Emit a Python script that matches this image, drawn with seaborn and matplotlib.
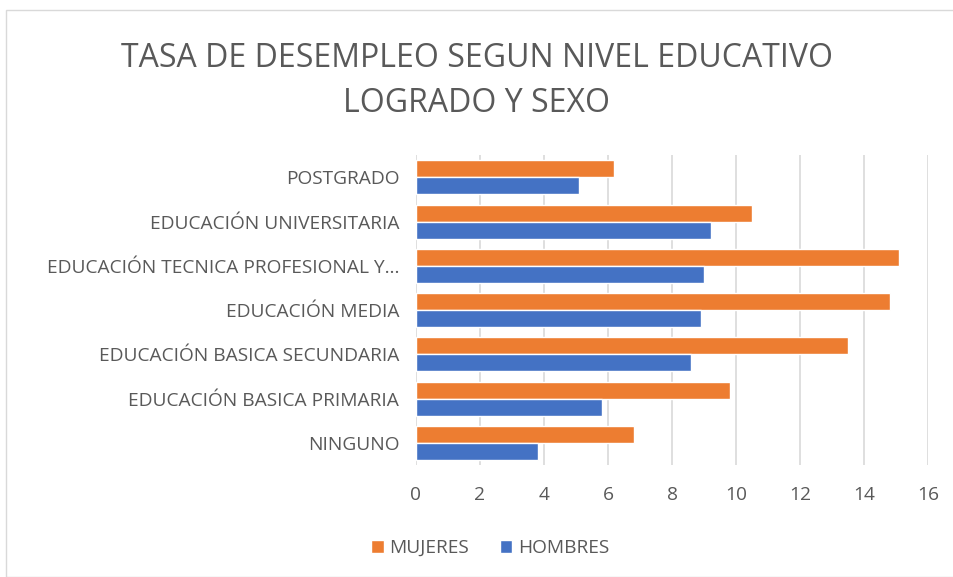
import pandas as pd
import matplotlib.pyplot as plt
import seaborn as sns
from matplotlib.patches import Rectangle

niveles = ["POSTGRADO", "EDUCACIÓN UNIVERSITARIA", "EDUCACIÓN TECNICA PROFESIONAL Y…",
           "EDUCACIÓN MEDIA", "EDUCACIÓN BASICA SECUNDARIA", "EDUCACIÓN BASICA PRIMARIA", "NINGUNO"]
mujeres = [6.2, 10.5, 15.1, 14.8, 13.5, 9.8, 6.8]
hombres = [5.1, 9.2, 9.0, 8.9, 8.6, 5.8, 3.8]
ticks = [0, 2, 4, 6, 8, 10, 12, 14, 16]

df = pd.DataFrame({
    "nivel": niveles * 2,
    "valor": mujeres + hombres,
    "sexo": ["MUJERES"] * len(niveles) + ["HOMBRES"] * len(niveles),
})

sns.set_style("white")
plt.rcParams["font.family"] = ["Open Sans", "DejaVu Sans"]
gris = "#595959"

fig = plt.figure(figsize=(9.54, 5.77), dpi=100)
ax = fig.add_axes([0.436, 0.194, 0.537, 0.537])
sns.barplot(data=df, x="valor", y="nivel", hue="sexo", hue_order=["MUJERES", "HOMBRES"],
            palette=["#ED7D31", "#4472C4"], orient="h", width=0.77, saturation=1, ax=ax)

ax.set_xlim(0, 16)
ax.set_xticks(ticks)
ax.set_xticklabels([str(t) for t in ticks])
ax.grid(axis="x", color="#D9D9D9", linewidth=1.2)
ax.set_axisbelow(True)
for s in ax.spines.values():
    s.set_visible(False)
ax.tick_params(axis="both", length=0, labelsize=13.8, colors=gris)
ax.tick_params(axis="y", pad=12)
ax.tick_params(axis="x", pad=15)
ax.set_xlabel("")
ax.set_ylabel("")

ax.legend(loc="center", bbox_to_anchor=(0.514, 0.05), bbox_transform=fig.transFigure, ncol=2,
          frameon=False, fontsize=13.8, labelcolor=gris, handlelength=0.65, handleheight=0.65,
          handletextpad=0.3, columnspacing=1.6)

fig.text(0.5, 0.898, "TASA DE DESEMPLEO SEGUN NIVEL EDUCATIVO", ha="center", va="center",
         fontsize=23, color=gris)
fig.text(0.5, 0.82, "LOGRADO Y SEXO", ha="center", va="center", fontsize=23, color=gris)

fig.patches.append(Rectangle((0.006, 0.0), 1.0, 0.982, transform=fig.transFigure,
                             fill=False, edgecolor="#D9D9D9", linewidth=1))

plt.savefig("out.png", dpi=100)
